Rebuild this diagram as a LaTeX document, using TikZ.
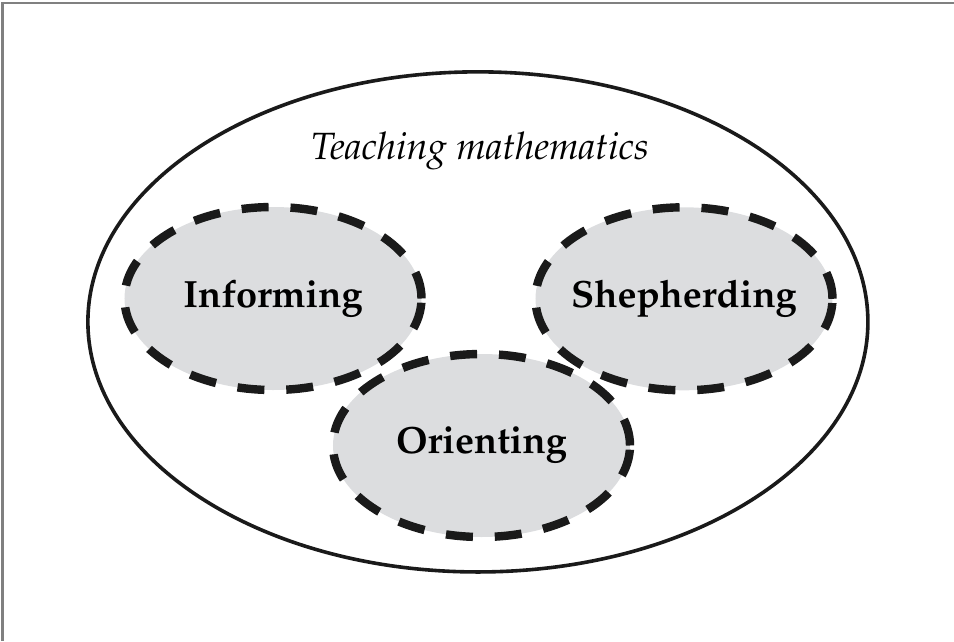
\documentclass[tikz,border=0pt]{standalone}
\usepackage[T1]{fontenc}
\usepackage{mathpazo}
\usetikzlibrary{shapes.geometric}
\definecolor{blobgray}{RGB}{220,221,223}
\definecolor{dashblack}{RGB}{26,26,26}
\tikzset{
  blob/.style={ellipse,draw=dashblack,fill=blobgray,line width=2.8bp,
    dash pattern=on 9bp off 7.3bp,minimum width=99bp,minimum height=61bp,
    inner sep=0pt,inner xsep=-15bp,font=\fontsize{12.7}{15}\selectfont\bfseries},
}
\begin{document}
\begin{tikzpicture}[x=1bp,y=1bp]
		\useasboundingbox (0,0) rectangle (318,-213.67);
		\draw[line width=0.8bp,gray] (0.9,-213.67) -- (0.9,-0.9) -- (318,-0.9);
		\node (teach) [ellipse,draw=dashblack,line width=1.2bp,minimum width=260bp,minimum height=166.7bp,inner sep=0pt] at (159.3,-107.3) {};
		\node (title) at (160,-50.3) {\fontsize{12.7}{15}\selectfont\itshape Teaching mathematics};
		\node (inform) [blob] at (91,-99.5) {Informing};
		\node (shep) [blob] at (228,-99.6) {Shepherding};
		\node (orient) [blob] at (160.5,-148.5) {Orienting};
	\end{tikzpicture}
\end{document}
